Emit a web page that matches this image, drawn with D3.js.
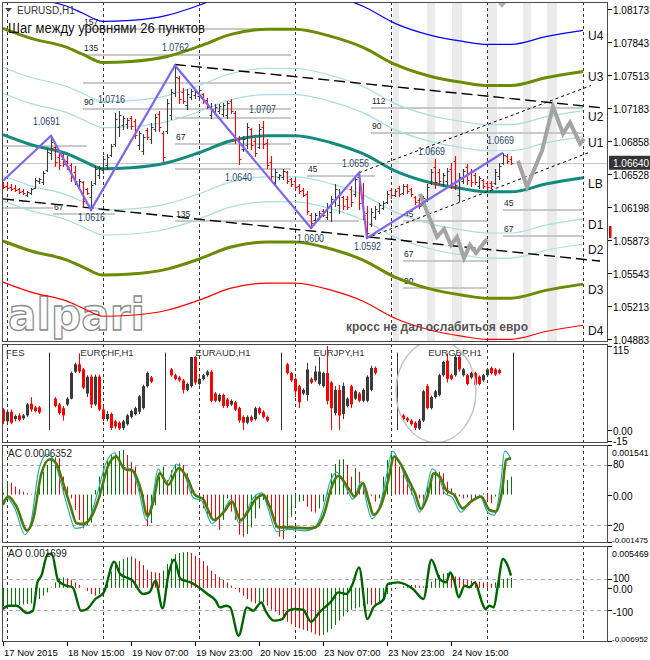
<!DOCTYPE html>
<html><head><meta charset="utf-8">
<script src="https://cdn.jsdelivr.net/npm/d3@7/dist/d3.min.js"></script>
<style>
html,body{margin:0;padding:0;background:#fff;}
svg{display:block;font-family:"Liberation Sans",Arial,sans-serif;}
</style></head><body>
<svg id="chart" width="650" height="660"></svg>
<script>
// ================= DATA =================
// EURUSD H1 bars, index -1 = 17 Nov 23:00, 0 = 18 Nov 00:00 ... [open, high, low, close]
const firstBar = -1;
const ohlc = [
[1.0644,1.0645,1.0639,1.0640],[1.0641,1.0644,1.0638,1.0639],[1.0640,1.0643,1.0637,1.0638],[1.0639,1.0642,1.0636,1.0637],
[1.0638,1.0639,1.0634,1.0635],[1.0636,1.0638,1.0633,1.0634],[1.0632,1.0636,1.0631,1.0635],[1.0634,1.0639,1.0633,1.0638],
[1.0639,1.0649,1.0639,1.0647],[1.0646,1.0649,1.0644,1.0648],[1.0645,1.0656,1.0643,1.0654],[1.0657,1.0678,1.0656,1.0675],
[1.0674,1.0691,1.0668,1.0685],[1.0680,1.0681,1.0661,1.0665],[1.0670,1.0674,1.0658,1.0662],[1.0668,1.0673,1.0661,1.0663],
[1.0666,1.0671,1.0658,1.0660],[1.0662,1.0664,1.0646,1.0650],[1.0655,1.0661,1.0643,1.0646],[1.0641,1.0648,1.0639,1.0646],
[1.0645,1.0646,1.0621,1.0626],[1.0638,1.0639,1.0633,1.0634],[1.0630,1.0646,1.0617,1.0642],[1.0644,1.0661,1.0643,1.0658],
[1.0652,1.0661,1.0649,1.0659],[1.0657,1.0671,1.0654,1.0668],[1.0662,1.0673,1.0658,1.0670],[1.0672,1.0683,1.0671,1.0681],
[1.0683,1.0714,1.0681,1.0708],[1.0700,1.0716,1.0691,1.0712],[1.0702,1.0711,1.0698,1.0709],[1.0703,1.0709,1.0699,1.0707],
[1.0709,1.0711,1.0698,1.0701],[1.0706,1.0708,1.0689,1.0692],[1.0682,1.0696,1.0678,1.0694],[1.0676,1.0693,1.0673,1.0690],
[1.0697,1.0699,1.0688,1.0690],[1.0688,1.0704,1.0684,1.0700],[1.0698,1.0713,1.0696,1.0710],[1.0713,1.0716,1.0696,1.0700],
[1.0694,1.0696,1.0666,1.0670],[1.0696,1.0728,1.0694,1.0724],[1.0712,1.0738,1.0708,1.0735],[1.0734,1.0761,1.0731,1.0750],
[1.0749,1.0751,1.0724,1.0728],[1.0735,1.0739,1.0724,1.0726],[1.0722,1.0738,1.0718,1.0733],[1.0730,1.0738,1.0728,1.0736],
[1.0732,1.0738,1.0729,1.0735],[1.0731,1.0739,1.0729,1.0737],[1.0733,1.0734,1.0724,1.0726],[1.0727,1.0729,1.0719,1.0720],
[1.0712,1.0724,1.0709,1.0718],[1.0715,1.0723,1.0713,1.0720],[1.0716,1.0723,1.0714,1.0721],[1.0713,1.0724,1.0711,1.0722],
[1.0712,1.0726,1.0709,1.0724],[1.0726,1.0728,1.0714,1.0716],[1.0714,1.0716,1.0684,1.0688],[1.0688,1.0691,1.0663,1.0668],
[1.0678,1.0691,1.0676,1.0688],[1.0682,1.0704,1.0679,1.0700],[1.0698,1.0699,1.0678,1.0682],[1.0686,1.0689,1.0671,1.0674],
[1.0680,1.0703,1.0679,1.0698],[1.0700,1.0706,1.0679,1.0683],[1.0684,1.0688,1.0659,1.0662],[1.0665,1.0671,1.0648,1.0651],
[1.0645,1.0658,1.0641,1.0655],[1.0650,1.0653,1.0648,1.0652],[1.0650,1.0658,1.0648,1.0656],[1.0655,1.0656,1.0644,1.0646],
[1.0648,1.0649,1.0641,1.0643],[1.0646,1.0648,1.0639,1.0640],[1.0641,1.0643,1.0634,1.0636],[1.0637,1.0639,1.0631,1.0632],
[1.0633,1.0636,1.0613,1.0616],[1.0612,1.0614,1.0599,1.0604],[1.0607,1.0614,1.0606,1.0612],[1.0609,1.0616,1.0608,1.0614],
[1.0616,1.0618,1.0611,1.0612],[1.0610,1.0624,1.0608,1.0620],[1.0615,1.0631,1.0606,1.0628],[1.0626,1.0643,1.0621,1.0638],
[1.0622,1.0638,1.0614,1.0634],[1.0630,1.0631,1.0618,1.0621],[1.0628,1.0631,1.0618,1.0620],[1.0638,1.0641,1.0621,1.0625],
[1.0633,1.0651,1.0631,1.0648],[1.0650,1.0654,1.0618,1.0624],[1.0628,1.0644,1.0608,1.0612],[1.0614,1.0621,1.0589,1.0594],
[1.0603,1.0619,1.0601,1.0615],[1.0610,1.0621,1.0608,1.0618],[1.0616,1.0624,1.0614,1.0622],[1.0619,1.0626,1.0618,1.0624],
[1.0625,1.0636,1.0624,1.0633],[1.0637,1.0639,1.0629,1.0632],[1.0632,1.0638,1.0631,1.0636],[1.0639,1.0641,1.0631,1.0633],
[1.0634,1.0643,1.0633,1.0641],[1.0641,1.0643,1.0634,1.0636],[1.0638,1.0639,1.0631,1.0633],[1.0630,1.0631,1.0623,1.0625],
[1.0627,1.0629,1.0619,1.0621],[1.0622,1.0631,1.0621,1.0629],[1.0628,1.0643,1.0626,1.0640],[1.0644,1.0658,1.0643,1.0655],
[1.0660,1.0668,1.0639,1.0645],[1.0655,1.0658,1.0643,1.0646],[1.0643,1.0654,1.0641,1.0652],[1.0646,1.0659,1.0643,1.0656],
[1.0658,1.0664,1.0639,1.0644],[1.0666,1.0671,1.0638,1.0642],[1.0632,1.0654,1.0626,1.0650],[1.0646,1.0658,1.0644,1.0656],
[1.0660,1.0663,1.0643,1.0647],[1.0655,1.0658,1.0641,1.0645],[1.0652,1.0654,1.0643,1.0645],[1.0641,1.0651,1.0639,1.0649],
[1.0647,1.0648,1.0639,1.0641],[1.0644,1.0646,1.0638,1.0640],[1.0644,1.0646,1.0639,1.0641],[1.0644,1.0658,1.0643,1.0655],
[1.0651,1.0664,1.0648,1.0661],[1.0664,1.0674,1.0663,1.0672],[1.0671,1.0673,1.0664,1.0666],[1.0668,1.0671,1.0663,1.0664]
];
const bidPrice = 1.0664;

// base line (LB) of the level channel, sampled by bar index
const lbBars   = [-1,6,15,19,24,31,40,48,56,65,72,81,89,97,106,114,120,126,135,144];
const lbPrices = [1.0692,1.0682,1.0673,1.0666,1.0658,1.0659,1.0664,1.0674,1.0686,1.0691,1.0691,1.0684,1.0673,1.0656,1.0644,1.0638,1.0635,1.0635,1.0643,1.0649];
const envNames   = ["U4","U3","U2","U1","LB","D1","D2","D3","D4"];
const envOffsets = [0.0147,0.0106,0.0067,0.0041,0,-0.0041,-0.0066,-0.0106,-0.0147];

// zigzag
const zzBars   = [-1,11,21,42,76,88,90,124];
const zzPrices = [1.0646,1.0691,1.0617,1.0761,1.0599,1.0654,1.0589,1.0674];
const zzLabels      = ["1.0691","1.0616","1.0762","1.0716","1.0707","1.0640","1.0600","1.0656","1.0592","1.0669","1.0669"];
const zzLabelBars   = [6.5,17.75,38.75,22.75,60.5,54.5,72.5,83.75,86.75,102.75,120];
const zzLabelPrices = [1.0702,1.0606,1.0775,1.0724,1.0714,1.0646,1.0585,1.0660,1.0577,1.0672,1.0683];

// trend lines [bar0, price0, bar1, price1]
const channelLines = [[42,1.0762,148.25,1.0719],[-1,1.0628,148.25,1.0566]];
const dottedLines  = [[88,1.0654,146,1.0741],[90,1.0589,146,1.0675]];

// grey level lines [bar0, bar1, price, label]
const levelLines = [
[19,71,1.0797,"157"],[19,71,1.0771,"135"],[19,71,1.0744,""],[19,71,1.0718,"90"],
[42,71,1.0709,""],[42,71,1.0683,"67"],[42,71,1.0658,""],[42,88,1.0606,"135"],
[-1,20,1.0681,""],[-1,11.5,1.0619,""],[11.5,27,1.0613,"67"],[75,92,1.0651,"45"],
[91,144,1.0719,"112"],[91,144,1.0694,"90"],
[99,120,1.0606,"45"],[99,120,1.0566,"67"],[99,120,1.0539,"90"],
[124,144,1.0617,"45"],[124,144,1.0591,"67"]
];

// projected paths (grey)
const projABars = [103.25,107.5,109.25,111,112.5,114.25,115.75,117.25,120];
const projAPrices = [1.0633,1.0590,1.0598,1.0582,1.0590,1.0569,1.0582,1.0574,1.0588];
const projBBars = [127.75,130,133.75,136.5,139,140.75,143.25,144.25];
const projBPrices = [1.0666,1.0640,1.0676,1.0720,1.0693,1.0704,1.0683,1.0688];

// shaded session bands [bar0, bar1]
const bands = [[96.5,98],[105,107],[111.25,113.75],[120.25,122.5],[129,131],[135,137.5]];

// axes
const priceTicks = [1.08173,1.07843,1.07513,1.07183,1.06858,1.06528,1.06198,1.05873,1.05543,1.05213,1.04883];
const gridBars = [0,24,48,72,96,120,144];
const dateBars   = [-1,15,31,47,63,79,95,111];
const dateLabels = ["17 Nov 2015","18 Nov 15:00","19 Nov 07:00","19 Nov 23:00","20 Nov 15:00","23 Nov 07:00","23 Nov 23:00","24 Nov 15:00"];

// FES panel: mini candle groups [open, high, low, close]
const fesNames = ["FES","EURCHF,H1","EURAUD,H1","EURJPY,H1","EURGBP,H1"];
const fesFirstBar = [-1,12,41,70,99];
const fesCandles = [
 [[28,30,8,12],[12,28,10,25],[25,28,8,10],[15,21,12,19],[20,23,12,14],[16,22,14,20],[20,37,18,35],[36,45,25,28],[31,33,24,26],[31,33,22,24]],
 [[43,45,31,33],[35,37,21,23],[30,33,13,20],[35,45,33,43],[43,80,42,78],[80,92,78,90],[90,105,78,80],[83,85,56,58],[50,75,45,73],[73,76,30,35],[35,76,33,73],[73,76,26,28],[28,33,12,15],[15,26,12,22],[22,24,0,3],[12,14,2,5],[10,12,0,2],[3,14,0,12],[8,22,6,20],[18,28,16,26],[22,32,20,30],[25,48,22,46],[30,62,28,60],[60,80,58,78],[72,74,64,66]],
 [[83,85,73,75],[75,77,68,70],[72,74,66,68],[68,70,50,55],[55,65,53,63],[60,100,58,100],[100,101,62,65],[63,72,61,70],[70,77,68,75],[75,82,73,80],[80,82,38,40],[50,52,38,40],[40,50,38,48],[48,50,30,33],[42,44,30,33],[35,42,33,40],[38,40,26,28],[30,32,10,13],[18,20,0,10],[10,20,8,18],[18,20,11,13],[15,32,13,30],[30,32,21,23],[25,27,16,18],[18,20,11,13]],
 [[90,92,76,78],[78,80,66,68],[70,72,45,53],[60,62,30,38],[50,57,48,55],[48,92,40,83],[70,72,63,65],[68,88,66,80],[63,100,61,80],[60,80,58,78],[78,115,35,40],[65,67,0,30],[23,60,20,55],[55,62,0,20],[22,65,15,60],[33,45,31,43],[60,62,30,35],[43,55,41,53],[50,52,38,40],[40,57,38,55],[40,75,38,73],[55,88,53,85],[85,87,76,78]],
 [[20,22,12,15],[16,18,11,13],[13,15,6,8],[10,12,0,3],[2,15,0,13],[13,55,11,53],[60,63,28,30],[30,47,28,45],[45,55,43,53],[48,77,46,75],[75,95,73,93],[95,105,65,70],[75,77,68,70],[75,103,73,100],[100,103,80,83],[75,85,73,83],[75,77,61,63],[72,80,70,78],[78,80,60,62],[73,75,61,63],[68,77,66,75],[75,85,73,83],[85,87,76,78],[83,85,74,76],[82,84,76,78]]
];

// AC (units of 1e-4), one value per bar from firstBar
const acHist = [0.6,3.7,3.7,2.5,1.6,0.9,0.4,0.2,1.4,4.0,
7.1,9.2,11.0,11.6,11.3,5.6,2.5,-1.2,-4.8,-7.9,
-10.5,-9.5,-8.7,1.4,5.6,8.9,11.0,12.3,13.0,13.6,
13.9,12.3,10.2,8.7,2.5,-1.7,-9.8,-8.9,-3.3,5.6,
8.7,4.5,7.6,9.5,9.7,9.2,6.6,3.0,-0.6,-1.7,
-4.3,-6.4,-6.9,-8.4,-11.0,-7.9,-1.2,-5.3,-7.9,-12.5,
-13.1,-12.3,-10.2,-7.4,-4.3,-1.7,-3.2,-6.4,-10.2,-13.1,
-13.9,-11.0,-6.9,-3.8,-2.2,-2.0,-3.8,-5.3,-5.6,-4.3,
-2.2,1.4,6.6,9.5,10.8,11.0,9.2,5.6,8.2,7.1,
4.0,0.9,-0.4,-2.2,-1.2,5.6,10.8,12.8,11.6,8.7,
7.6,6.1,3.5,0.4,-1.2,-2.7,2.5,6.1,7.4,7.1,
6.6,4.0,1.9,0.4,-0.6,-1.2,-0.9,-1.7,-1.2,-0.4,
0.4,-1.9,-2.7,-0.6,1.4,4.3,4.5,5.6];
const acSlowBars = [-1,0.3,2.4,5,6.5,8.6,10.7,12.3,13.8,15.9,17.4,19,21.1,23.1,25.2,27.3,29.4,31.4,33.5,35.1,36.6,38.2,40.3,42.9,44.9,47,49.1,50.1,51.7,54.3,56.3,58.4,60.5,62,64.1,65.7,67.8,70.9,75,77.1,79.2,81.2,82.8,85.4,86.9,89,90.6,91.6,93.7,95.3,96.8,98.3,100.4,102,103.5,105.1,106.7,108.2,109.8,111.8,113.9,116,118.6,120.6,122.2,123.8,124.8,126];
const acSlowVals = [-3.2,-0.6,-3.8,-11.2,-7.9,6.6,11.0,9.7,4.5,-3.8,-8.9,-9.1,-6.9,-0.6,8.7,11.8,7.9,7.4,1.4,-6.6,-2.2,6.6,3.0,8.2,5.6,-0.1,-1.5,-4.3,-7.9,-5.3,-2.2,-7.9,-4.8,-1.7,-0.1,-3.8,-10.2,-10.2,-10.5,-10.2,-6.3,2.5,5.8,1.9,-0.6,3.5,-2.7,-6.3,-2.7,4.5,11.8,9.7,4.5,0.4,-4.5,-0.6,6.6,5.6,1.4,-0.1,-4.3,-2.2,-0.6,-4.8,-5.3,1.4,10.8,11.3];
const acFastBars = [-1,0,2,4.5,6,8,10,11.8,13.3,15.4,17,18.5,20.6,22.6,24.8,26.8,29,31,33,34.8,36.2,37.8,39.8,42.4,44.4,46.6,48.7,49.7,51.2,54,56,58,60,61.6,63.7,65.3,67.4,70.5,74.6,76.8,78.8,80.8,82.4,85,86.5,88.6,90.2,91.2,93.3,94.9,96.4,97.9,100,101.6,103.1,104.7,106.3,107.8,109.4,111.4,113.5,115.6,118.2,120.2,121.8,123.4,124.4,125.6,126];
const acFastVals = [-2.0,-1.0,-4.5,-12.5,-8.5,8.0,12.5,10.5,4.5,-5.0,-10.5,-10.3,-7.5,0.5,10.0,13.0,8.5,8.0,1.0,-8.0,-2.5,8.0,3.5,9.5,6.0,-1.0,-2.0,-5.0,-9.0,-5.5,-1.5,-9.0,-5.0,-1.0,0.5,-4.5,-11.5,-10.8,-11.3,-10.5,-5.5,4.0,7.0,1.5,-1.5,4.0,-4.0,-7.5,-3.0,6.0,13.5,10.5,4.0,-0.5,-5.5,0.5,8.0,6.0,0.5,-1.0,-5.5,-2.5,-0.5,-5.5,-6.5,3.0,13.5,12.0,11.0];
const acLevels = [0.00092,-0.00094];
const acTicks = [0.001541,0.00092,0,-0.00094,-0.001475];
const acTickLabels = ["0.001541","80","0.00","20","-0.001475"];

// AO (units of 1e-4)
const aoHist = [-24.2,-23.8,-23.4,-22.9,-22.5,-21.6,-21.2,-20.3,-18.1,-14.6,
-10.3,-5.9,0.6,7.1,12.4,13.7,12.4,10.6,7.1,3.7,
-0.3,-4.2,-8.1,-10.3,-8.1,-2.4,7.1,21.1,29.8,35.0,
37.7,39.8,41.2,38.5,35.0,29.8,23.7,21.1,20.2,19.4,
22.4,31.1,38.5,43.8,45.5,46.4,46.8,45.5,42.0,38.5,
35.0,28.9,22.4,18.0,13.7,10.6,7.1,2.8,-1.6,-5.9,
-10.3,-14.6,-18.1,-20.3,-19.9,-19.0,-23.4,-28.6,-31.2,-35.6,
-40.8,-44.3,-47.8,-50.4,-53.0,-54.8,-56.5,-58.2,-60.9,-62.6,
-61.7,-58.2,-53.9,-48.6,-42.9,-37.3,-32.1,-28.6,-26.9,-25.5,
-23.4,-21.6,-22.5,-23.4,-19.0,-13.8,-8.1,-3.7,-1.6,0.2,
1.9,2.8,3.7,3.6,2.8,1.9,3.7,8.0,12.4,16.7,
18.5,19.4,16.7,15.0,13.7,11.5,10.6,9.3,8.9,8.0,
7.1,6.3,5.4,7.1,9.8,11.5,12.4,12.8];
const aoLineBars = [-1,0.3,2.4,5,6.5,7.6,8.6,10.2,11.2,12.8,14.8,16.4,18.5,20,22.1,24.2,26.8,28.3,31.4,34,35.6,37.1,38.9,40.3,41.8,43.4,45.9,48,50.1,52.2,53.2,54.8,55.8,57.9,60,61.5,63.6,64.6,66.7,68.8,70.3,71.9,74,76,78.1,81.2,82.8,84.9,86.4,88,90.1,91.6,94.2,95.2,97.8,99.4,101.5,104.1,106.1,108.2,109.8,110.8,111.8,112.9,114.4,115.5,117,118.6,119.6,120.6,121.7,122.7,124,125,126];
const aoLineVals = [-27.7,-23.4,-23.4,-32.9,-29.9,7.1,15.9,44.2,44.2,9.3,2.8,0.6,-29.9,-27.7,-14.6,-5.9,34.2,18.0,9.3,-8.0,-5.9,9.3,-26.9,15.9,36.8,11.5,7.1,0.6,-8.1,-16.8,-25.5,-23.4,-25.5,-62.6,-25.5,-29.9,-19.0,-29.9,-42.9,-40.8,-29.9,-27.7,-28.6,-44.3,-32.1,-16.8,-5.9,-8.1,5.0,26.8,-40.8,-25.5,-14.6,5.0,7.1,5.0,-1.6,-14.6,36.8,11.5,7.1,20.2,9.3,-12.4,2.8,0.6,7.1,-16.8,-27.7,-23.4,-25.5,2.8,37.7,31.1,15.9];
const aoLevels = [0.00115,-0.0029];
const aoTicks = [0.005469,0.00115,0,-0.0029,-0.006952];
const aoTickLabels = ["0.005469","100","0.00","-100","-0.006952"];
const fesTicks = [115,0,-15];
const fesTickLabels = ["115","0.00","-15"];

// ================= DRAW =================
const svg = d3.select("#chart");
const PL = 2, PR = 608;
const panels = {main:[2,342], fes:[344,443], ac:[445,543], ao:[546,642]};

const x = d3.scaleLinear().domain([-1,144]).range([3,583]);
const yMain = d3.scaleLinear().domain([1.04883,1.08173]).range([339,9]);
const yFes = d3.scaleLinear().domain([-15,115]).range([441,346]);
const yAc = d3.scaleLinear().domain([-0.001475,0.001541]).range([542,445]);
const yAo = d3.scaleLinear().domain([-0.006952,0.005469]).range([641,546]);
const cx = v => Math.round(x(v)) + 0.5;
const UP = "#3a3a3a", DN = "#ff0000";

const defs = svg.append("defs");
Object.entries(panels).forEach(([k,[t,b]]) => {
  defs.append("clipPath").attr("id","clip-"+k).append("rect")
    .attr("x",PL).attr("y",t).attr("width",PR-PL).attr("height",b-t);
});

svg.append("rect").attr("width",650).attr("height",660).attr("fill","#fff");

function panelGroup(k){ return svg.append("g").attr("clip-path","url(#clip-"+k+")"); }

// ---------- MAIN PANEL ----------
const gM = panelGroup("main");
const [mT,mB] = panels.main;

gM.selectAll("rect.band").data(bands).join("rect").attr("class","band")
  .attr("x",d=>x(d[0])).attr("width",d=>x(d[1])-x(d[0]))
  .attr("y",mT).attr("height",mB-mT).attr("fill","#ebebeb");

function grid(g,t,b){
  g.selectAll("line.grid").data(gridBars).join("line").attr("class","grid")
   .attr("x1",d=>cx(d)).attr("x2",d=>cx(d)).attr("y1",t).attr("y2",b)
   .attr("stroke","#333").attr("stroke-width",1).attr("stroke-dasharray","3,3");
}
grid(gM,mT,mB);

// logo
gM.append("text").attr("x",8).attr("y",330).text("alpari")
  .attr("font-family","'DejaVu Sans',sans-serif").attr("font-weight","bold")
  .attr("font-size",45).attr("textLength",137).attr("lengthAdjust","spacingAndGlyphs")
  .attr("fill","#fcfcfc").attr("stroke","#8a8a8a").attr("stroke-width",1.3);

// level lines
gM.selectAll("line.lvl").data(levelLines).join("line").attr("class","lvl")
  .attr("x1",d=>x(d[0])).attr("x2",d=>x(d[1]))
  .attr("y1",d=>Math.round(yMain(d[2]))).attr("y2",d=>Math.round(yMain(d[2])))
  .attr("stroke","#c9c9c9").attr("stroke-width",2);
gM.selectAll("text.lvl").data(levelLines.filter(d=>d[3])).join("text").attr("class","lvl")
  .attr("x",d=>x(d[0])+1).attr("y",d=>yMain(d[2])-4).text(d=>d[3])
  .attr("font-size",8.5).attr("fill","#222");

// bid line
gM.append("line").attr("x1",PL).attr("x2",PR)
  .attr("y1",Math.round(yMain(bidPrice))+0.5).attr("y2",Math.round(yMain(bidPrice))+0.5)
  .attr("stroke","#c4c4c4").attr("stroke-width",1);

// envelope lines
const envStyle = {U4:["#0000ff",1.2],U3:["#6b8c00",3],U2:["#a8dde1",1.2],U1:["#a8dde1",1.2],LB:["#138a7e",3],
                  D1:["#a8dde1",1.2],D2:["#a8dde1",1.2],D3:["#6b8c00",3],D4:["#ff0000",1.2]};
const lbPts = lbBars.map((b,i)=>[b,lbPrices[i]]);
envNames.forEach((n,k)=>{
  const off = envOffsets[k];
  const ln = d3.line().x(d=>x(d[0])).y(d=>yMain(d[1]+off)).curve(d3.curveMonotoneX);
  gM.append("path").attr("d",ln(lbPts)).attr("fill","none")
    .attr("stroke",envStyle[n][0]).attr("stroke-width",envStyle[n][1]);
  const last = lbPts[lbPts.length-1];
  gM.append("text").attr("x",x(last[0])+5).attr("y",yMain(last[1]+off)+10).text(n)
    .attr("font-size",12).attr("fill","#111");
});

// trend lines
gM.selectAll("line.ch").data(channelLines).join("line").attr("class","ch")
  .attr("x1",d=>x(d[0])).attr("y1",d=>yMain(d[1])).attr("x2",d=>x(d[2])).attr("y2",d=>yMain(d[3]))
  .attr("stroke","#000").attr("stroke-width",1.4).attr("stroke-dasharray","11,5");
gM.selectAll("line.dt").data(dottedLines).join("line").attr("class","dt")
  .attr("x1",d=>x(d[0])).attr("y1",d=>yMain(d[1])).attr("x2",d=>x(d[2])).attr("y2",d=>yMain(d[3]))
  .attr("stroke","#000").attr("stroke-width",1).attr("stroke-dasharray","3,3");

// bars (OHLC)
const barData = ohlc.map((d,i)=>({i:firstBar+i,o:d[0],h:d[1],l:d[2],c:d[3]}));
gM.selectAll("path.bar").data(barData).join("path").attr("class","bar")
  .attr("d",d=>{
    const xx=cx(d.i), yo=Math.round(yMain(d.o))+0.5, yc=Math.round(yMain(d.c))+0.5;
    return `M${xx},${Math.round(yMain(d.h))}V${Math.round(yMain(d.l))+1}M${xx-2},${yo}H${xx}M${xx},${yc}H${xx+2}`;
  })
  .attr("stroke",d=>d.c>=d.o?UP:DN).attr("stroke-width",1.1).attr("fill","none");

// projection paths
const projLine = d3.line().x(d=>x(d[0])).y(d=>yMain(d[1]));
[[projABars,projAPrices],[projBBars,projBPrices]].forEach(([bs,ps])=>{
  gM.append("path").attr("d",projLine(bs.map((b,i)=>[b,ps[i]])))
    .attr("fill","none").attr("stroke","#a4a4a4").attr("stroke-width",4)
    .attr("stroke-linejoin","miter").attr("stroke-linecap","butt");
});

// zigzag
gM.append("path").attr("d",projLine(zzBars.map((b,i)=>[b,zzPrices[i]])))
  .attr("fill","none").attr("stroke","#7b68ee").attr("stroke-width",2.2);

// zigzag price labels
gM.selectAll("text.zz").data(zzLabels).join("text").attr("class","zz")
  .attr("x",(d,i)=>x(zzLabelBars[i])).attr("y",(d,i)=>yMain(zzLabelPrices[i]))
  .text(d=>d).attr("font-size",11).attr("textLength",27).attr("lengthAdjust","spacingAndGlyphs")
  .attr("fill","#26466e");

// titles
gM.append("path").attr("d","M5,8L12,8L8.5,12Z").attr("fill","#444");
gM.append("text").attr("x",17).attr("y",14).text("EURUSD,H1").attr("font-size",10).attr("fill","#333");
gM.append("text").attr("x",8).attr("y",33).text("Шаг между уровнями 26 пунктов")
  .attr("font-size",14).attr("textLength",197).attr("lengthAdjust","spacingAndGlyphs").attr("fill","#111");
gM.append("text").attr("x",346).attr("y",331).text("кросс не дал ослабиться евро")
  .attr("font-size",13).attr("font-weight","bold").attr("textLength",182).attr("lengthAdjust","spacingAndGlyphs")
  .attr("fill","#555");
// top marker
gM.append("path").attr("d",`M${x(123.75)-5},2L${x(123.75)+5},2L${x(123.75)},8Z`).attr("fill","#b0b0b0");

// ---------- FES PANEL ----------
const gF = panelGroup("fes");
const [fT,fB] = panels.fes;
grid(gF,fT,fB);
fesCandles.forEach((cs,g)=>{
  const fb = fesFirstBar[g];
  cs.forEach((d,j)=>{
    const xx = cx(fb+j), up = d[3]>=d[0], col = up?UP:DN;
    gF.append("line").attr("x1",xx).attr("x2",xx).attr("y1",yFes(d[1])).attr("y2",yFes(d[2]))
      .attr("stroke",col).attr("stroke-width",1);
    const y0 = yFes(Math.max(d[0],d[3])), y1 = yFes(Math.min(d[0],d[3]));
    gF.append("rect").attr("x",xx-1.5).attr("width",3).attr("y",y0).attr("height",Math.max(1,y1-y0)).attr("fill",col);
  });
  if (g>0) {
    const sx = cx(fb-1.5);
    gF.append("line").attr("x1",sx).attr("x2",sx).attr("y1",yFes(0)).attr("y2",yFes(106)).attr("stroke","#333");
    gF.append("text").attr("x",x(fb+13)).attr("y",356).attr("text-anchor","middle").text(fesNames[g])
      .attr("font-size",9.5).attr("fill","#333");
  } else {
    gF.append("text").attr("x",6).attr("y",356).text(fesNames[g]).attr("font-size",9.5).attr("fill","#333");
  }
});
{ const sx = cx(fesFirstBar[4]+27.5);
  gF.append("line").attr("x1",sx).attr("x2",sx).attr("y1",yFes(0)).attr("y2",yFes(106)).attr("stroke","#333"); }
gF.append("ellipse").attr("cx",x(107.25)).attr("cy",yFes(53)).attr("rx",40).attr("ry",51)
  .attr("fill","none").attr("stroke","#c4c4c4").attr("stroke-width",1.5);

// ---------- AC PANEL ----------
const gA = panelGroup("ac");
const [aT,aB] = panels.ac;
grid(gA,aT,aB);
gA.selectAll("line.lv").data(acLevels).join("line").attr("class","lv")
  .attr("x1",PL).attr("x2",PR).attr("y1",d=>Math.round(yAc(d))+0.5).attr("y2",d=>Math.round(yAc(d))+0.5)
  .attr("stroke","#b0b0b0").attr("stroke-dasharray","4,3");
gA.selectAll("line.h").data(acHist).join("line").attr("class","h")
  .attr("x1",(d,i)=>cx(firstBar+i)).attr("x2",(d,i)=>cx(firstBar+i))
  .attr("y1",yAc(0)).attr("y2",d=>yAc(d*1e-4))
  .attr("stroke",(d,i)=> (i===0 || d>acHist[i-1]) ? "#007a00" : "#ff0000").attr("stroke-width",1);
const acLine = d3.line().x(d=>x(d[0])).y(d=>yAc(d[1]*1e-4)).curve(d3.curveMonotoneX);
gA.append("path").attr("d",acLine(acFastBars.map((b,i)=>[b,acFastVals[i]])))
  .attr("fill","none").attr("stroke","#20b2aa").attr("stroke-width",1.2);
gA.append("path").attr("d",acLine(acSlowBars.map((b,i)=>[b,acSlowVals[i]])))
  .attr("fill","none").attr("stroke","#4e7a0c").attr("stroke-width",2.6);
gA.append("text").attr("x",8).attr("y",457).text("AC 0.0006352").attr("font-size",10).attr("fill","#222");

// ---------- AO PANEL ----------
const gO = panelGroup("ao");
const [oT,oB] = panels.ao;
grid(gO,oT,oB);
gO.selectAll("line.lv").data(aoLevels).join("line").attr("class","lv")
  .attr("x1",PL).attr("x2",PR).attr("y1",d=>Math.round(yAo(d))+0.5).attr("y2",d=>Math.round(yAo(d))+0.5)
  .attr("stroke","#b0b0b0").attr("stroke-dasharray","4,3");
gO.selectAll("line.h").data(aoHist).join("line").attr("class","h")
  .attr("x1",(d,i)=>cx(firstBar+i)).attr("x2",(d,i)=>cx(firstBar+i))
  .attr("y1",yAo(0)).attr("y2",d=>yAo(d*1e-4))
  .attr("stroke",(d,i)=> (i===0 || d>aoHist[i-1]) ? "#007a00" : "#ff0000").attr("stroke-width",1);
const aoLine = d3.line().x(d=>x(d[0])).y(d=>yAo(d[1]*1e-4)).curve(d3.curveMonotoneX);
gO.append("path").attr("d",aoLine(aoLineBars.map((b,i)=>[b,aoLineVals[i]])))
  .attr("fill","none").attr("stroke","#006400").attr("stroke-width",2.4);
gO.append("text").attr("x",8).attr("y",557).text("AO 0.001699").attr("font-size",10).attr("fill","#222");

// ---------- BORDERS ----------
Object.values(panels).forEach(([t,b])=>{
  svg.append("rect").attr("x",PL+0.5).attr("y",t+0.5).attr("width",PR-PL-1).attr("height",b-t-1)
    .attr("fill","none").attr("stroke","#4a4a4a").attr("stroke-width",1);
});

// ---------- RIGHT AXES ----------
const ax = svg.append("g").attr("font-size",10).attr("fill","#000");
priceTicks.forEach(p=>{
  const yy = Math.round(yMain(p))+0.5;
  ax.append("line").attr("x1",PR).attr("x2",PR+4).attr("y1",yy).attr("y2",yy).attr("stroke","#000");
  ax.append("text").attr("x",613).attr("y",yy+4).text(p.toFixed(5));
});
{ const yy = yMain(bidPrice);
  ax.append("rect").attr("x",609).attr("y",yy-7).attr("width",41).attr("height",14).attr("fill","#333");
  ax.append("text").attr("x",613).attr("y",yy+4).text(bidPrice.toFixed(5)).attr("fill","#fff"); }
ax.append("rect").attr("x",609).attr("y",yMain(1.0601)).attr("width",2.5)
  .attr("height",yMain(1.0589)-yMain(1.0601)).attr("fill","#e00000");

function subTicks(vals,labels,scale,t,b){
  vals.forEach((v,i)=>{
    const yy = Math.round(scale(v))+0.5;
    ax.append("line").attr("x1",PR).attr("x2",PR+4).attr("y1",yy).attr("y2",yy).attr("stroke","#000");
    let ty = Math.min(Math.max(yy+4, t+11), b);
    if (v > 0 && labels[i].length < 6) ty -= 1.5;
    if (v < 0 && labels[i].length < 6) ty += 1.5;
    const long = labels[i].length > 6;
    const tx = ax.append("text").attr("x",long ? 612 : 613).attr("y",ty).text(labels[i]);
    if (long) tx.attr("font-size", labels[i].length > 8 ? 8 : 8.8);
  });
}
subTicks(fesTicks,fesTickLabels,yFes,fT,fB);
subTicks(acTicks,acTickLabels,yAc,aT,aB);
subTicks(aoTicks,aoTickLabels,yAo,oT,oB);

// ---------- TIME AXIS ----------
dateBars.forEach((b,i)=>{
  const xx = i===0 ? 3 : x(b);
  svg.append("line").attr("x1",Math.round(xx)+0.5).attr("x2",Math.round(xx)+0.5).attr("y1",642).attr("y2",646).attr("stroke","#000");
  svg.append("text").attr("x",xx+1).attr("y",656).text(dateLabels[i]).attr("font-size",9.5).attr("fill","#000");
});
</script>
</body></html>
